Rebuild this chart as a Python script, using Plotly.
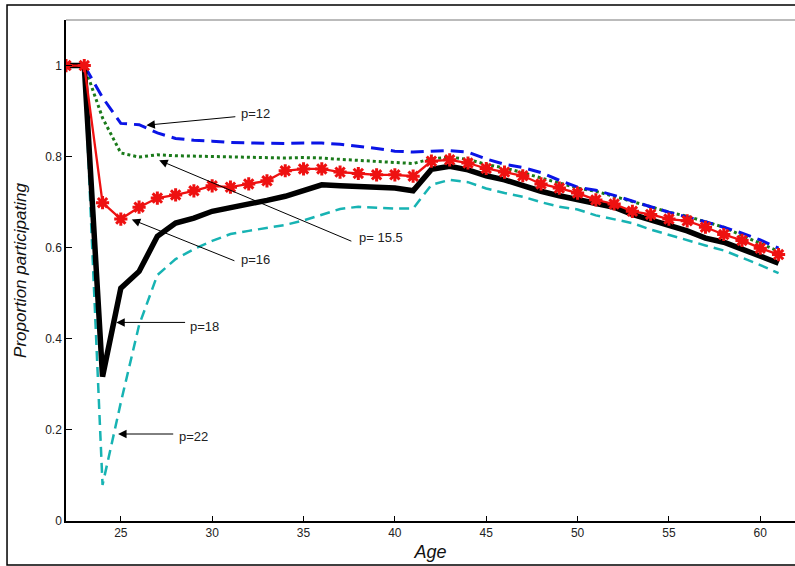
import plotly.graph_objects as go

ages = list(range(22, 62))

p12 = [1.0, 1.0, 0.93, 0.873, 0.870, 0.852, 0.840, 0.836, 0.834, 0.831,
       0.830, 0.829, 0.829, 0.830, 0.830, 0.827, 0.823, 0.818, 0.812, 0.810,
       0.812, 0.813, 0.810, 0.795, 0.783, 0.776, 0.765, 0.748, 0.733, 0.726,
       0.715, 0.702, 0.690, 0.678, 0.668, 0.657, 0.645, 0.632, 0.617, 0.599]

p155 = [1.0, 1.0, 0.885, 0.808, 0.799, 0.804, 0.802, 0.801, 0.800, 0.799,
        0.798, 0.797, 0.797, 0.798, 0.797, 0.794, 0.792, 0.790, 0.787, 0.785,
        0.795, 0.799, 0.794, 0.783, 0.775, 0.765, 0.753, 0.742, 0.731, 0.724,
        0.713, 0.702, 0.690, 0.678, 0.669, 0.657, 0.645, 0.627, 0.610, 0.592]

p16 = [1.0, 1.0, 0.699, 0.663, 0.689, 0.709, 0.716, 0.725, 0.736, 0.733,
       0.740, 0.747, 0.769, 0.773, 0.773, 0.766, 0.763, 0.760, 0.760, 0.757,
       0.790, 0.793, 0.786, 0.774, 0.766, 0.758, 0.740, 0.731, 0.720, 0.705,
       0.696, 0.680, 0.673, 0.663, 0.659, 0.645, 0.629, 0.616, 0.599, 0.585]

p18 = [1.0, 1.0, 0.317, 0.511, 0.548, 0.625, 0.654, 0.665, 0.680, 0.687,
       0.695, 0.704, 0.713, 0.727, 0.738, 0.736, 0.733, 0.733, 0.731, 0.725,
       0.772, 0.779, 0.771, 0.758, 0.749, 0.736, 0.724, 0.714, 0.705, 0.695,
       0.689, 0.673, 0.662, 0.651, 0.637, 0.621, 0.612, 0.597, 0.582, 0.566]

p22 = [1.0, 1.0, 0.079, 0.26, 0.43, 0.54, 0.575, 0.597, 0.615, 0.630,
       0.637, 0.643, 0.650, 0.660, 0.672, 0.685, 0.690, 0.688, 0.686, 0.686,
       0.738, 0.749, 0.744, 0.730, 0.720, 0.712, 0.700, 0.690, 0.684, 0.671,
       0.663, 0.654, 0.640, 0.628, 0.617, 0.605, 0.594, 0.578, 0.562, 0.544]

x_ticks = [25, 30, 35, 40, 45, 50, 55, 60]
y_ticks = [0, 0.2, 0.4, 0.6, 0.8, 1]

label_texts = ["p=12", "p= 15.5", "p=16", "p=18", "p=22"]
label_x = [31.45, 37.9, 31.45, 28.7, 28.1]
label_y = [0.894, 0.622, 0.574, 0.426, 0.186]
arrow_tail_x = [31.35, 37.7, 31.3, 28.6, 27.95]
arrow_tail_y = [0.888, 0.613, 0.570, 0.436, 0.191]
arrow_tip_x = [26.4, 27.1, 25.6, 24.75, 24.85]
arrow_tip_y = [0.869, 0.792, 0.662, 0.436, 0.191]

fig = go.Figure()
fig.add_trace(go.Scatter(x=ages, y=p22, mode="lines",
                         line=dict(color="#17b3b3", width=2.5, dash="10px,6px")))
fig.add_trace(go.Scatter(x=ages, y=p155, mode="lines",
                         line=dict(color="#1a7a1a", width=3, dash="dot")))
fig.add_trace(go.Scatter(x=ages, y=p12, mode="lines",
                         line=dict(color="#0a14e6", width=3, dash="13px,7px")))
fig.add_trace(go.Scatter(x=ages, y=p18, mode="lines",
                         line=dict(color="black", width=5.5)))
fig.add_trace(go.Scatter(x=ages, y=p16, mode="lines+markers",
                         line=dict(color="#ee1111", width=2.3),
                         marker=dict(symbol="asterisk", size=11, color="#ee1111",
                                     line=dict(color="#ee1111", width=3))))

for text, tx, ty in zip(label_texts, label_x, label_y):
    fig.add_annotation(x=tx, y=ty, text=text, showarrow=False, xanchor="left",
                       font=dict(family="Liberation Sans, Arial", size=13, color="#222"))
for tx0, ty0, hx, hy in zip(arrow_tail_x, arrow_tail_y, arrow_tip_x, arrow_tip_y):
    fig.add_annotation(x=hx, y=hy, ax=tx0, ay=ty0, xref="x", yref="y",
                       axref="x", ayref="y", text="", showarrow=True,
                       arrowhead=2, arrowsize=1.7, arrowwidth=1, arrowcolor="black")

# top grey line and outer frame
fig.add_shape(type="line", xref="paper", yref="paper", x0=0, x1=1.1, y0=1, y1=1,
              line=dict(color="#bbbbbb", width=2))
fig.add_shape(type="rect", xref="paper", yref="paper",
              x0=-0.0809, x1=1.2, y0=-0.0878, y1=1.030,
              line=dict(color="black", width=1.5))

fig.update_layout(
    width=795, height=566,
    margin=dict(l=66, r=0, t=20, b=45),
    plot_bgcolor="white", paper_bgcolor="white",
    showlegend=False,
    font=dict(family="Liberation Sans, Arial", size=12, color="#222"),
    xaxis=dict(range=[22, 61.9], tickvals=x_ticks, ticks="inside", ticklen=5,
               tickcolor="black", showgrid=False, zeroline=False,
               showline=True, linecolor="black", linewidth=1.5,
               title=dict(text="Age", standoff=6,
                          font=dict(size=18, style="italic", family="Liberation Sans, Arial", color="#111"))),
    yaxis=dict(range=[0, 1.1], tickvals=y_ticks, ticks="inside", ticklen=6,
               tickcolor="black", showgrid=False, zeroline=False,
               showline=True, linecolor="black", linewidth=1.5,
               title=dict(text="Proportion participating", standoff=14,
                          font=dict(size=17, style="italic", family="Liberation Sans, Arial", color="#111"))),
)

fig.write_html("out.html")
